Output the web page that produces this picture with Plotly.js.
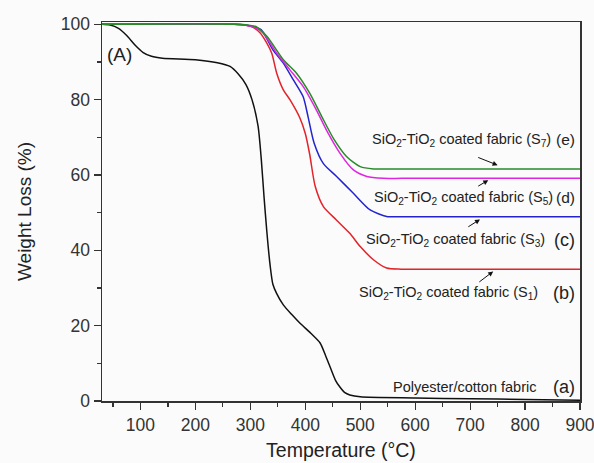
<!DOCTYPE html>
<html>
<head>
<meta charset="utf-8">
<script src="https://cdn.plot.ly/plotly-3.0.1.min.js"></script>
<style>html,body{margin:0;padding:0;background:#fbfbfb;}</style>
</head>
<body>
<div id="chart" style="width:594px;height:463px;"></div>
<script>
// Temperature (°C) / weight (%)
const xBlack = [30,45,60,75,90,105,120,140,200,240,263,278,292,303,314,320,325,330,336,341,348,360,375,390,410,427,437,445,455,463,472,481,500,600,700,800,900];
const yBlack = [100,99.8,98.9,97,94.5,92.5,91.5,91,90.6,89.8,88.8,86.8,84,80,73,64,54,45,36,31,28.5,25.5,23,20.7,18,15.4,12,9.1,5.5,3.7,2.2,1.6,1.1,0.8,0.6,0.4,0.2];

const xRed = [30,270,290,305,318,330,339,348,360,372,390,400,408,418,433,457,481,500,524,548,575,700,900];
const yRed = [100,100,99.8,99.2,97.7,95,92.3,87,82.6,80,75.2,71,65.5,57,51.6,48,44.5,41,37.5,35.3,35,35,35];

const xBlue = [30,270,290,305,320,341,360,378,396,405,416,433,457,487,518,548,575,700,900];
const yBlue = [100,100,99.8,99.4,98.5,93.2,89.7,85.3,80.8,75.5,68.5,63,59.6,55.2,50.7,49,48.9,48.9,48.9];

const xMag = [30,270,290,305,323,348,372,396,420,440,463,487,512,542,575,700,900];
const yMag = [100,100,99.8,99.3,97.7,92.3,87.9,83.5,77.3,71.5,65.8,61.4,59.6,59.1,59.1,59.1,59.1];

const xGreen = [30,275,295,310,330,360,384,408,430,452,475,500,524,550,700,900];
const yGreen = [100,100,99.8,99.4,96.8,90.6,87,81.7,75.5,69.5,64.9,62.2,61.6,61.6,61.6,61.6];

const seriesNames = ['Polyester/cotton fabric','SiO2-TiO2 coated fabric (S1)','SiO2-TiO2 coated fabric (S3)','SiO2-TiO2 coated fabric (S5)','SiO2-TiO2 coated fabric (S7)'];
const labelTexts = [
  'Polyester/cotton fabric',
  'SiO<sub>2</sub>-TiO<sub>2</sub> coated fabric (S<sub>1</sub>)',
  'SiO<sub>2</sub>-TiO<sub>2</sub> coated fabric (S<sub>3</sub>)',
  'SiO<sub>2</sub>-TiO<sub>2</sub> coated fabric (S<sub>5</sub>)',
  'SiO<sub>2</sub>-TiO<sub>2</sub> coated fabric (S<sub>7</sub>)'
];
const letters = ['(a)','(b)','(c)','(d)','(e)'];
const labelX = [823, 827, 840, 854, 851];
const labelY = [3.8, 28.6, 42.8, 54, 69.3];
const letterSize = [18, 18, 18, 15.5, 15.5];
const letterX = 895;
// arrows: [tipX, tipY, tailX, tailY]
const arrows = [[742,34.4,714,31.3],[718,48.2,694,46],[733,58.6,712,56.8],[750,62.6,712,64.8]];

const colors = ['#111111','#e3232a','#2424cf','#e026e0','#2a8a2a'];
const xs = [xBlack,xRed,xBlue,xMag,xGreen];
const ys = [yBlack,yRed,yBlue,yMag,yGreen];

const FONT = 'Liberation Sans, Arial, sans-serif';
const traces = xs.map((x,i)=>({
  x:x, y:ys[i], type:'scatter', mode:'lines', name:seriesNames[i],
  line:{color:colors[i], width:1.5, shape:'spline', smoothing:0.7},
  hoverinfo:'x+y'
}));

const ann = [];
labelTexts.forEach((t,i)=>{
  ann.push({x:labelX[i], y:labelY[i], xref:'x', yref:'y', text:t, showarrow:false,
    xanchor:'right', yanchor:'middle', font:{family:FONT, size:14.5, color:'#222'}});
  ann.push({x:letterX, y:labelY[i], xref:'x', yref:'y', text:letters[i], showarrow:false,
    xanchor:'right', yanchor:'middle', font:{family:FONT, size:letterSize[i], color:'#222'}});
});
arrows.forEach(a=>{
  ann.push({x:a[0], y:a[1], ax:a[2], ay:a[3], xref:'x', yref:'y', axref:'x', ayref:'y',
    text:'', showarrow:true, arrowhead:2, arrowsize:1, arrowwidth:1, arrowcolor:'#111', standoff:0});
});
ann.push({x:35, y:92, xref:'x', yref:'y', text:'(A)', showarrow:false, xanchor:'left', yanchor:'middle',
  font:{family:FONT, size:19, color:'#222'}});

const layout = {
  width:594, height:463,
  margin:{l:102, r:14, t:22, b:62, pad:0},
  paper_bgcolor:'#fbfbfb', plot_bgcolor:'#fbfbfb',
  showlegend:false,
  font:{family:FONT, color:'#333'},
  xaxis:{
    range:[30,900], tick0:0, dtick:100, ticks:'outside', ticklen:7, tickwidth:1.2, tickcolor:'#333',
    minor:{dtick:50, ticks:'outside', ticklen:4, tickwidth:1.2, tickcolor:'#333'},
    showline:true, linecolor:'#333', linewidth:1.5, mirror:true, showgrid:false, zeroline:false,
    tickfont:{family:FONT, size:17.5, color:'#333'}, ticklabeloverflow:'allow',
    title:{text:'Temperature (°C)', font:{family:FONT, size:19.5, color:'#222'}, standoff:10}
  },
  yaxis:{
    range:[0,100.6], tick0:0, dtick:20, ticks:'outside', ticklen:7, tickwidth:1.2, tickcolor:'#333',
    minor:{dtick:10, ticks:'outside', ticklen:4, tickwidth:1.2, tickcolor:'#333'},
    showline:true, linecolor:'#333', linewidth:1.5, mirror:true, showgrid:false, zeroline:false,
    tickfont:{family:FONT, size:17.5, color:'#333'}, ticklabeloverflow:'allow',
    title:{text:'Weight Loss (%)', font:{family:FONT, size:19, color:'#222'}, standoff:24}
  },
  annotations:ann
};
Plotly.newPlot('chart', traces, layout, {staticPlot:true, displayModeBar:false});
</script>
</body>
</html>
